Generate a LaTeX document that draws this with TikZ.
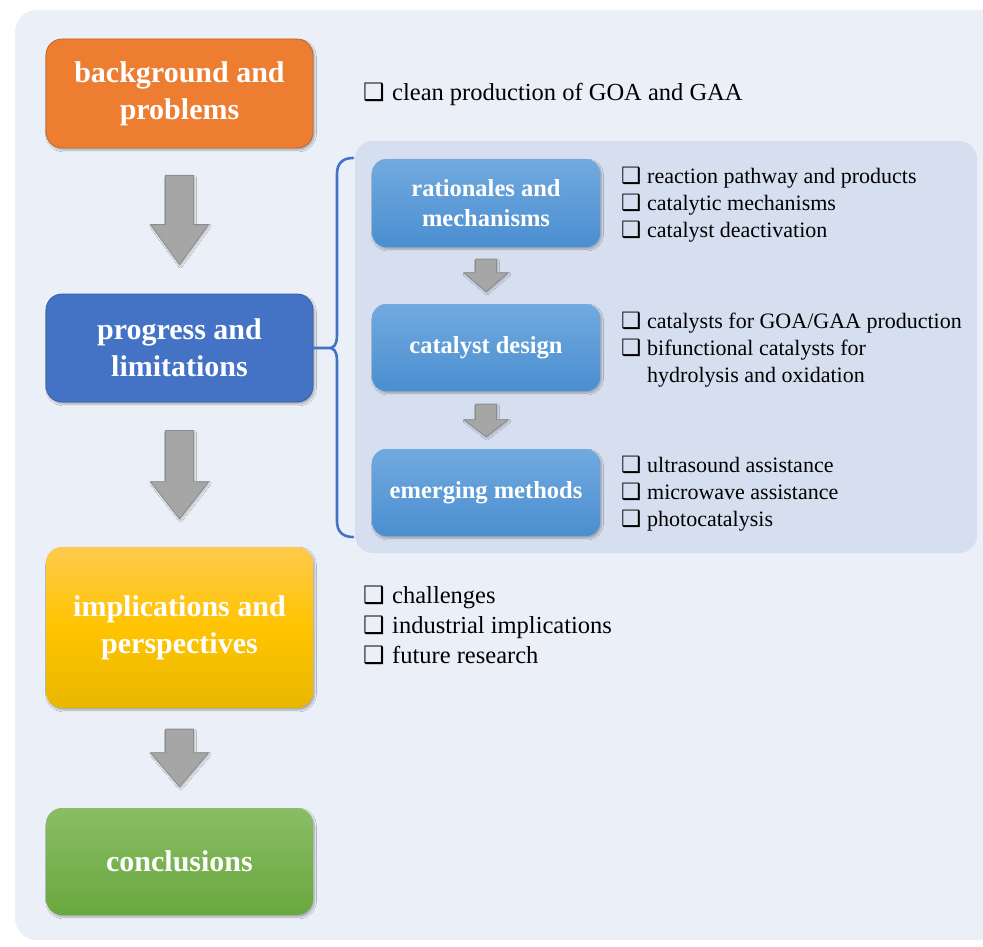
\documentclass[tikz,border=0pt]{standalone}
\usepackage{fontspec}
\setmainfont{Liberation Serif}
\newfontfamily\tms{Liberation Serif}
\newfontfamily\djv{DejaVu Sans}
\usetikzlibrary{shadows.blur,calc}
\definecolor{bgc}{HTML}{EBEFF7}
\definecolor{panelc}{HTML}{D6DFF0}
\definecolor{orangec}{HTML}{ED7D31}
\definecolor{orangeb}{HTML}{C0682C}
\definecolor{bluec}{HTML}{4472C4}
\definecolor{blueb}{HTML}{365EA8}
\definecolor{yelt}{HTML}{FFCA4C}
\definecolor{yelm}{HTML}{FFC400}
\definecolor{yelb}{HTML}{E8B700}
\definecolor{grt}{HTML}{8ABD66}
\definecolor{grb}{HTML}{69A83E}
\definecolor{subt}{HTML}{72AADF}
\definecolor{subb}{HTML}{4A8ED0}
\definecolor{arrf}{HTML}{A6A6A6}
\definecolor{arrd}{HTML}{8C8C8C}
\newcommand\bxs{\makebox[26pt][l]{\djv\fontsize{22.5}{22.5}\selectfont\symbol{"2751}}}
\newcommand\bxl{\makebox[29pt][l]{\djv\fontsize{24}{24}\selectfont\symbol{"2751}}}
% block arrow between two named nodes: from, to, topgap, botgap, headlen, shafthalf, headhalf
\newcommand\blockarrow[7]{%
  \path[arrowstyle] let \p1=(#1.south), \p2=(#2.north) in
    (\x1-#6pt,\y1-#3pt) -- (\x1+#6pt,\y1-#3pt) -- (\x1+#6pt,\y2+#4pt+#5pt)
    -- (\x1+#7pt,\y2+#4pt+#5pt) -- (\x1,\y2+#4pt) -- (\x1-#7pt,\y2+#4pt+#5pt)
    -- (\x1-#6pt,\y2+#4pt+#5pt) -- cycle;}
\tikzset{
  mainbox/.style={rounded corners=16pt, minimum width=267pt, inner sep=0pt,
    align=center, text=white, font=\tms\bfseries\fontsize{30}{37}\selectfont,
    blur shadow={shadow blur steps=6, shadow xshift=1.5pt, shadow yshift=-2pt, shadow opacity=30}},
  subbox/.style={rounded corners=14pt, minimum width=228pt, inner sep=0pt,
    align=center, text=white, font=\tms\bfseries\fontsize{24.5}{30}\selectfont,
    top color=subt, bottom color=subb,
    blur shadow={shadow blur steps=6, shadow xshift=1.5pt, shadow yshift=-2pt, shadow opacity=30}},
  subitem/.style={anchor=base west, inner sep=0pt, font=\tms\fontsize{22}{27}\selectfont},
  bigitem/.style={anchor=base west, inner sep=0pt, font=\tms\fontsize{24.5}{30}\selectfont},
  arrowstyle/.style={fill=arrf, draw=arrd, line width=0.8pt, line join=miter,
    blur shadow={shadow blur steps=5, shadow xshift=1pt, shadow yshift=-1.5pt, shadow opacity=25}},
  bracestyle/.style={draw=bluec, line width=2.6pt, line cap=round}
}
\begin{document}
\begin{tikzpicture}[x=1pt,y=-1pt]
\useasboundingbox (0,0) rectangle (983,947);
\fill[white] (0,0) rectangle (983,947);
\begin{scope}
\clip (0,0) rectangle (983,947);
\fill[bgc, rounded corners=22pt] (15,10) rectangle (1010,940);
\end{scope}
% sub panel
\fill[panelc, rounded corners=18pt] (355,141) rectangle (977,553);

% main boxes
\node[mainbox, fill=orangec, draw=orangeb, line width=0.8pt, minimum height=109pt] (bg) at (179.5,93.5) {background and\\problems};
\node[mainbox, fill=bluec, draw=blueb, line width=0.8pt, minimum height=108pt] (prog) at (179.5,348) {progress and\\limitations};
\node[mainbox, top color=yelt, bottom color=yelb, middle color=yelm, minimum height=161pt] (impl) at (179.5,627.5) {implications and\\perspectives};
\node[mainbox, top color=grt, bottom color=grb, minimum height=107pt] (concl) at (179.5,861.5) {conclusions};

% sub boxes
\node[subbox, minimum height=88pt] (rat) at (486,203) {rationales and\\mechanisms};
\node[subbox, minimum height=87pt] (cat) at (486,347.5) {catalyst design};
\node[subbox, minimum height=87pt] (emer) at (486,492.5) {emerging methods};

% block arrows
\blockarrow{bg}{prog}{27}{29}{40}{14}{29}
\blockarrow{prog}{impl}{28}{28}{37}{14}{29}
\blockarrow{impl}{concl}{21}{21}{34}{14}{29}
\blockarrow{rat}{cat}{12}{12}{19}{10.5}{22}
\blockarrow{cat}{emer}{13}{12}{17}{10.5}{22}

% brace
\coordinate (btip) at (331,348);
\coordinate (btop) at (353,158);
\coordinate (bbot) at (353,537);
\draw[bracestyle] (prog.east) -- (btip)
  .. controls (337,346) and (337,340) .. (337,330) -- (337,174)
  .. controls (337,163) and (343,158) .. (btop);
\draw[bracestyle] (btip)
  .. controls (337,350) and (337,356) .. (337,366) -- (337,521)
  .. controls (337,532) and (343,537) .. (bbot);

% lists
\node[bigitem] (l0) at (363,101) {\bxl clean production of GOA and GAA};
\foreach \t [count=\i] in {reaction pathway and products, catalytic mechanisms, catalyst deactivation}
  \node[subitem] (ra\i) at (621,156+27*\i) {\bxs\t};
\node[subitem] (ca1) at (621,328) {\bxs catalysts for GOA/GAA production};
\node[subitem] (ca2) at (621,355) {\bxs bifunctional catalysts for};
\node[subitem] (ca3) at (647,382) {hydrolysis and oxidation};
\foreach \t [count=\i] in {ultrasound assistance, microwave assistance, photocatalysis}
  \node[subitem] (em\i) at (621,445+27*\i) {\bxs\t};
\foreach \t [count=\i] in {challenges, industrial implications, future research}
  \node[bigitem] (ip\i) at (363,573+30*\i) {\bxl\t};
\end{tikzpicture}
\end{document}
